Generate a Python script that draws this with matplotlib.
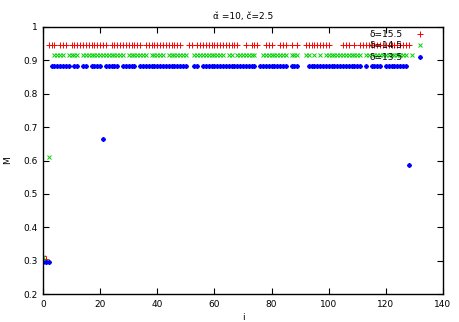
import matplotlib
matplotlib.use("Agg")
import matplotlib.pyplot as plt

# Runs of consecutive i values sitting on the upper plateau of each series
red_runs = [(2, 4), (6, 8), (10, 22), (24, 34), (36, 48), (51, 52), (54, 68), (71, 71),
            (73, 75), (78, 80), (83, 85), (87, 87), (89, 89), (92, 100), (105, 107),
            (109, 109), (111, 128)]
green_runs = [(4, 7), (9, 12), (14, 28), (30, 36), (38, 42), (44, 50), (53, 63), (65, 66),
              (68, 74), (77, 85), (87, 89), (92, 93), (95, 95), (97, 97), (99, 111),
              (113, 114), (116, 127), (129, 129)]
blue_runs = [(3, 9), (11, 12), (14, 15), (17, 20), (22, 26), (28, 32), (34, 50), (53, 54),
             (56, 74), (76, 85), (87, 89), (93, 111), (113, 113), (115, 118), (120, 127)]

red_level = 0.947
green_level = 0.915
blue_level = 0.883

# Isolated points off the plateau
red_low_i = [0, 1]
red_low_m = [0.315, 0.305]
green_low_i = [0, 1, 2]
green_low_m = [0.310, 0.300, 0.610]
blue_low_i = [0, 1, 2, 21, 128]
blue_low_m = [0.297, 0.297, 0.297, 0.664, 0.588]

labels = ["δ=15.5", "δ=14.5", "δ=13.5"]


def build(runs, level, low_i, low_m):
    xs = list(low_i)
    ys = list(low_m)
    for a, b in runs:
        for k in range(a, b + 1):
            xs.append(k)
            ys.append(level)
    return xs, ys


fig = plt.figure(figsize=(4.59, 3.22), dpi=100)
ax = fig.add_axes([43 / 459, 1 - 294 / 322, 400 / 459, 267 / 322])

rx, ry = build(red_runs, red_level, red_low_i, red_low_m)
gx, gy = build(green_runs, green_level, green_low_i, green_low_m)
bx, by = build(blue_runs, blue_level, blue_low_i, blue_low_m)

ax.plot(rx, ry, linestyle="none", marker="+", ms=4, mew=0.7, color="#ff0000", label=labels[0])
ax.plot(gx, gy, linestyle="none", marker="x", ms=3, mew=0.7, color="#00d000", label=labels[1])
ax.plot(bx, by, linestyle="none", marker=(8, 2, 0), ms=3.3, mew=0.8, color="#0000ff", label=labels[2])

ax.set_xlim(0, 140)
ax.set_ylim(0.2, 1.0)
ax.set_xticks(range(0, 141, 20))
ax.set_yticks([0.2, 0.3, 0.4, 0.5, 0.6, 0.7, 0.8, 0.9, 1.0])
ax.set_yticklabels(["0.2", "0.3", "0.4", "0.5", "0.6", "0.7", "0.8", "0.9", "1"])
ax.tick_params(direction="in", top=True, right=True, labelsize=6.5, length=4, width=0.8, pad=4)
for s in ax.spines.values():
    s.set_linewidth(1.0)

ax.set_xlabel("i", fontsize=6.5, labelpad=3)
ax.set_ylabel("M", fontsize=6.5, labelpad=8)
ax.set_title("α̌ =10, č=2.5", fontsize=6.5, pad=6)

leg = ax.legend(loc="upper right", bbox_to_anchor=(0.954, 0.99), frameon=False,
                markerfirst=False, fontsize=6.5, handlelength=1.0, handletextpad=1.4,
                labelspacing=0.3, borderpad=0.0, borderaxespad=0.0)

fig.savefig("out.png", dpi=100)
